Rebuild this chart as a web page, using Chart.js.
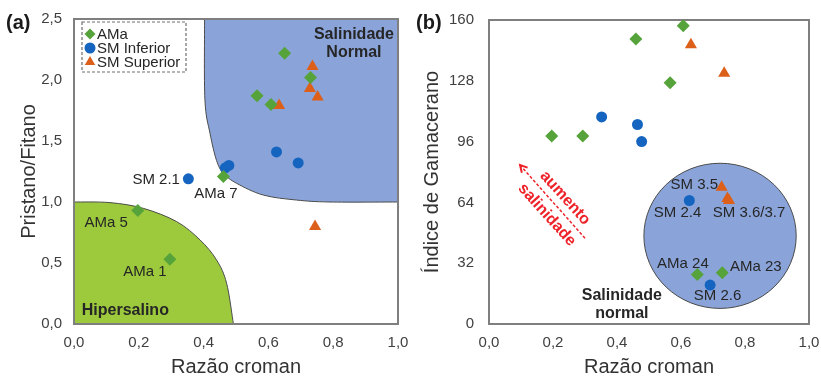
<!DOCTYPE html>
<html>
<head>
<meta charset="utf-8">
<script src="https://cdn.jsdelivr.net/npm/chart.js@4/dist/chart.umd.min.js"></script>
<style>
  html, body { margin: 0; padding: 0; background: #fff; }
  #wrap { position: relative; width: 821px; height: 379px; overflow: hidden; }
  canvas { position: absolute; top: 0; }
  #chartA { left: 0; }
  #chartB { left: 410px; }
</style>
</head>
<body>
<div id="wrap">
  <canvas id="chartA" width="410" height="379"></canvas>
  <canvas id="chartB" width="411" height="379"></canvas>
</div>
<script>
// (a) croman ratio vs pristane/phytane
var amaCromanA = [0.65, 0.73, 0.565, 0.608, 0.461, 0.197, 0.296];
var amaPrFiA = [2.22, 2.02, 1.87, 1.80, 1.21, 0.93, 0.53];
var smInfCromanA = [0.353, 0.467, 0.478, 0.625, 0.692];
var smInfPrFiA = [1.19, 1.28, 1.30, 1.41, 1.32];
var smSupCromanA = [0.736, 0.633, 0.728, 0.752, 0.744];
var smSupPrFiA = [2.11, 1.79, 1.93, 1.86, 0.80];

// (b) croman ratio vs gammacerane index
var amaCromanB = [0.607, 0.459, 0.566, 0.196, 0.293, 0.651, 0.729];
var amaGamB = [157, 150, 127, 99, 99, 26, 27];
var smInfCromanB = [0.352, 0.464, 0.477, 0.626, 0.691];
var smInfGamB = [109, 105, 96, 65, 20.5];
var smSupCromanB = [0.631, 0.735, 0.727, 0.745, 0.75];
var smSupGamB = [147, 132, 72, 66, 65];

// axis ticks
var xTicks = [0, 0.2, 0.4, 0.6, 0.8, 1.0];
var yTicksA = [0, 0.5, 1.0, 1.5, 2.0, 2.5];
var yTicksB = [0, 32, 64, 96, 128, 160];

// field boundaries (croman, value)
var normalEdgeA = [[0.403, 2.5], [0.404, 1.84], [0.42, 1.56], [0.44, 1.34], [0.461, 1.235], [0.502, 1.153], [0.584, 1.057], [0.687, 1.016], [0.79, 1.0], [1.0, 1.0]];
var hyperEdgeA = [[0, 1.0], [0.111, 0.995], [0.214, 0.948], [0.317, 0.839], [0.389, 0.689], [0.44, 0.525], [0.471, 0.334], [0.492, 0]];
var normalCircleB = { x: 0.722, y: 46.4, rx: 0.238, ry: 38.2 };

var GREEN = "#55a33a", BLUE = "#1565c0", ORANGE = "#dc5f1a";
var FONT = "'Liberation Sans', Arial, sans-serif";
var TXT = "#262626";

function pairs(xs, ys) {
  return xs.map(function (x, i) { return { x: x, y: ys[i] }; });
}

function fmt(v, dec) {
  return v.toFixed(dec).replace(".", ",");
}

function smoothPath(ctx, pts, moveFirst) {
  if (moveFirst) ctx.moveTo(pts[0][0], pts[0][1]); else ctx.lineTo(pts[0][0], pts[0][1]);
  for (var i = 0; i < pts.length - 1; i++) {
    var p0 = pts[i - 1] || pts[i], p1 = pts[i], p2 = pts[i + 1], p3 = pts[i + 2] || p2;
    var c1x = p1[0] + (p2[0] - p0[0]) / 6, c1y = p1[1] + (p2[1] - p0[1]) / 6;
    var c2x = p2[0] - (p3[0] - p1[0]) / 6, c2y = p2[1] - (p3[1] - p1[1]) / 6;
    ctx.bezierCurveTo(c1x, c1y, c2x, c2y, p2[0], p2[1]);
  }
}

function toPx(chart, pts) {
  var xs = chart.scales.x, ys = chart.scales.y;
  return pts.map(function (p) { return [xs.getPixelForValue(p[0]), ys.getPixelForValue(p[1])]; });
}

function drawText(ctx, chart, t) {
  var x = chart.scales.x.getPixelForValue(t.x), y = chart.scales.y.getPixelForValue(t.y);
  ctx.save();
  ctx.font = (t.bold ? "bold " : "") + (t.size || 15) + "px " + FONT;
  ctx.fillStyle = t.color || TXT;
  ctx.textAlign = t.align || "center";
  ctx.textBaseline = "middle";
  ctx.translate(x, y);
  if (t.rot) ctx.rotate(t.rot * Math.PI / 180);
  ctx.fillText(t.text, 0, 0);
  ctx.restore();
}

function frame(chart) {
  var a = chart.chartArea, ctx = chart.ctx;
  ctx.save();
  ctx.strokeStyle = "#7f7f7f";
  ctx.lineWidth = 2;
  ctx.strokeRect(a.left, a.top, a.right - a.left, a.bottom - a.top);
  ctx.restore();
}

function panelTag(chart, text) {
  var ctx = chart.ctx;
  ctx.save();
  ctx.font = "bold 20px " + FONT;
  ctx.fillStyle = "#1a1a1a";
  ctx.textBaseline = "middle";
  ctx.fillText(text, 6, 23);
  ctx.restore();
}

var labelsA = [
  { text: "SM 2.1", x: 0.327, y: 1.18, align: "right" },
  { text: "AMa 7", x: 0.438, y: 1.066 },
  { text: "AMa 5", x: 0.099, y: 0.83 },
  { text: "AMa 1", x: 0.219, y: 0.429 },
  { text: "Hipersalino", x: 0.024, y: 0.107, align: "left", bold: true, size: 16 },
  { text: "Salinidade", x: 0.864, y: 2.369, bold: true, size: 16 },
  { text: "Normal", x: 0.864, y: 2.224, bold: true, size: 16 }
];

var labelsB = [
  { text: "SM 3.5", x: 0.716, y: 73.2, align: "right" },
  { text: "SM 2.4", x: 0.589, y: 58.3 },
  { text: "SM 3.6/3.7", x: 0.8125, y: 58.3 },
  { text: "AMa 24", x: 0.606, y: 31.6 },
  { text: "AMa 23", x: 0.753, y: 30.2, align: "left" },
  { text: "SM 2.6", x: 0.714, y: 14.7 },
  { text: "Salinidade", x: 0.415, y: 14.7, bold: true, size: 16 },
  { text: "normal", x: 0.415, y: 5.6, bold: true, size: 16 },
  { text: "aumento", x: 0.2375, y: 66.3, bold: true, size: 16, color: "#ee2229", rot: 48 },
  { text: "salinidade", x: 0.181, y: 57.4, bold: true, size: 16, color: "#ee2229", rot: 48 }
];

// dashed red arrow, tail then tip
var arrowB = [[0.30, 45.1], [0.097, 83.7]];

var fieldsA = {
  id: "fieldsA",
  beforeDatasetsDraw: function (chart) {
    var ctx = chart.ctx;
    var xs = chart.scales.x, ys = chart.scales.y;
    ctx.save();
    // normal salinity field
    var n = toPx(chart, normalEdgeA);
    ctx.beginPath();
    ctx.moveTo(xs.getPixelForValue(1), ys.getPixelForValue(2.5));
    smoothPath(ctx, n, false);
    ctx.closePath();
    ctx.fillStyle = "#8aa4da";
    ctx.fill();
    ctx.beginPath();
    smoothPath(ctx, n, true);
    ctx.strokeStyle = "#4a4a4a";
    ctx.lineWidth = 1;
    ctx.stroke();
    // hypersaline field
    var h = toPx(chart, hyperEdgeA);
    ctx.beginPath();
    ctx.moveTo(xs.getPixelForValue(0), ys.getPixelForValue(0));
    smoothPath(ctx, h, false);
    ctx.closePath();
    ctx.fillStyle = "#9dca3c";
    ctx.fill();
    ctx.beginPath();
    smoothPath(ctx, h, true);
    ctx.strokeStyle = "#4a4a4a";
    ctx.stroke();
    ctx.restore();
    frame(chart);
  },
  afterDatasetsDraw: function (chart) {
    var ctx = chart.ctx;
    labelsA.forEach(function (t) { drawText(ctx, chart, t); });
    panelTag(chart, "(a)");
    // legend with dashed border
    var a = chart.chartArea;
    var bx = a.left + 8, by = a.top + 3;
    ctx.save();
    ctx.setLineDash([3, 2]);
    ctx.strokeStyle = "#6e6e6e";
    ctx.lineWidth = 1.2;
    ctx.strokeRect(bx, by, 104, 50);
    ctx.setLineDash([]);
    chart.data.datasets.forEach(function (ds, i) {
      var y = by + 12 + i * 14;
      ctx.fillStyle = ds.backgroundColor;
      ctx.strokeStyle = ds.backgroundColor;
      Chart.helpers.drawPoint(ctx, { pointStyle: ds.pointStyle, radius: ds.pointStyle === "triangle" ? 6 : 5.5, borderWidth: 0, rotation: 0 }, bx + 8, y);
      ctx.fillStyle = TXT;
      ctx.font = "15px " + FONT;
      ctx.textBaseline = "middle";
      ctx.textAlign = "left";
      ctx.fillText(ds.label, bx + 15, y + 1);
    });
    ctx.restore();
  }
};

var fieldsB = {
  id: "fieldsB",
  beforeDatasetsDraw: function (chart) {
    var ctx = chart.ctx;
    var xs = chart.scales.x, ys = chart.scales.y;
    var c = normalCircleB;
    var cx = xs.getPixelForValue(c.x), cy = ys.getPixelForValue(c.y);
    var rx = xs.getPixelForValue(c.x + c.rx) - cx, ry = cy - ys.getPixelForValue(c.y + c.ry);
    ctx.save();
    ctx.beginPath();
    ctx.ellipse(cx, cy, rx, ry, 0, 0, Math.PI * 2);
    ctx.fillStyle = "#8aa4da";
    ctx.fill();
    ctx.strokeStyle = "#4a4a4a";
    ctx.lineWidth = 1;
    ctx.stroke();
    ctx.restore();
    frame(chart);
  },
  afterDatasetsDraw: function (chart) {
    var ctx = chart.ctx;
    labelsB.forEach(function (t) { drawText(ctx, chart, t); });
    panelTag(chart, "(b)");
    var p = toPx(chart, arrowB);
    var ang = Math.atan2(p[1][1] - p[0][1], p[1][0] - p[0][0]);
    ctx.save();
    ctx.strokeStyle = "#ee2229";
    ctx.lineWidth = 1.5;
    ctx.setLineDash([3, 2]);
    ctx.beginPath();
    ctx.moveTo(p[0][0], p[0][1]);
    ctx.lineTo(p[1][0], p[1][1]);
    ctx.stroke();
    ctx.setLineDash([]);
    ctx.lineWidth = 2;
    ctx.beginPath();
    ctx.moveTo(p[1][0] - 8 * Math.cos(ang - 0.5), p[1][1] - 8 * Math.sin(ang - 0.5));
    ctx.lineTo(p[1][0], p[1][1]);
    ctx.lineTo(p[1][0] - 8 * Math.cos(ang + 0.5), p[1][1] - 8 * Math.sin(ang + 0.5));
    ctx.stroke();
    ctx.restore();
  }
};

function datasets(ama, inf, sup) {
  return [
    { label: "AMa", data: ama, pointStyle: "rectRot", pointRadius: 6.5, backgroundColor: GREEN, borderColor: GREEN, borderWidth: 0 },
    { label: "SM Inferior", data: inf, pointStyle: "circle", pointRadius: 5.5, backgroundColor: BLUE, borderColor: BLUE, borderWidth: 0 },
    { label: "SM Superior", data: sup, pointStyle: "triangle", pointRadius: 7, backgroundColor: ORANGE, borderColor: ORANGE, borderWidth: 0 }
  ];
}

function options(yTicks, yDec, yTitle, yWidth, yTitlePad, yTickPad, topPad) {
  var tickFont = { family: FONT, size: 15 };
  return {
    responsive: false,
    animation: false,
    layout: { padding: { top: topPad, right: 12, left: 0, bottom: 0 } },
    plugins: { legend: { display: false }, tooltip: { enabled: false } },
    scales: {
      x: {
        type: "linear", min: xTicks[0], max: xTicks[xTicks.length - 1],
        afterBuildTicks: function (s) { s.ticks = xTicks.map(function (v) { return { value: v }; }); },
        ticks: { callback: function (v) { return fmt(v, 1); }, font: tickFont, color: "#404040", padding: 10, maxRotation: 0 },
        grid: { display: false, drawTicks: false },
        border: { display: false },
        title: { display: true, text: "Razão croman", font: { family: FONT, size: 20 }, color: "#333", padding: { top: 0, bottom: 0 } },
        afterFit: function (s) { s.height = 55; s.paddingLeft = 0; s.paddingRight = 0; }
      },
      y: {
        type: "linear", min: yTicks[0], max: yTicks[yTicks.length - 1],
        afterBuildTicks: function (s) { s.ticks = yTicks.map(function (v) { return { value: v }; }); },
        ticks: { callback: function (v) { return fmt(v, yDec); }, font: tickFont, color: "#404040", padding: yTickPad },
        grid: { display: false, drawTicks: false },
        border: { display: false },
        title: { display: true, text: yTitle, font: { family: FONT, size: 20 }, color: "#333", padding: { top: yTitlePad, bottom: 0 } },
        afterFit: function (s) { s.width = yWidth; s.paddingTop = 0; s.paddingBottom = 0; }
      }
    }
  };
}

new Chart(document.getElementById("chartA"), {
  type: "scatter",
  data: { datasets: datasets(pairs(amaCromanA, amaPrFiA), pairs(smInfCromanA, smInfPrFiA), pairs(smSupCromanA, smSupPrFiA)) },
  options: options(yTicksA, 1, "Pristano/Fitano", 74, 17, 12, 19),
  plugins: [fieldsA]
});

new Chart(document.getElementById("chartB"), {
  type: "scatter",
  data: { datasets: datasets(pairs(amaCromanB, amaGamB), pairs(smInfCromanB, smInfGamB), pairs(smSupCromanB, smSupGamB)) },
  options: options(yTicksB, 0, "Índice de Gamacerano", 79, 10, 15, 20),
  plugins: [fieldsB]
});
</script>
</body>
</html>
